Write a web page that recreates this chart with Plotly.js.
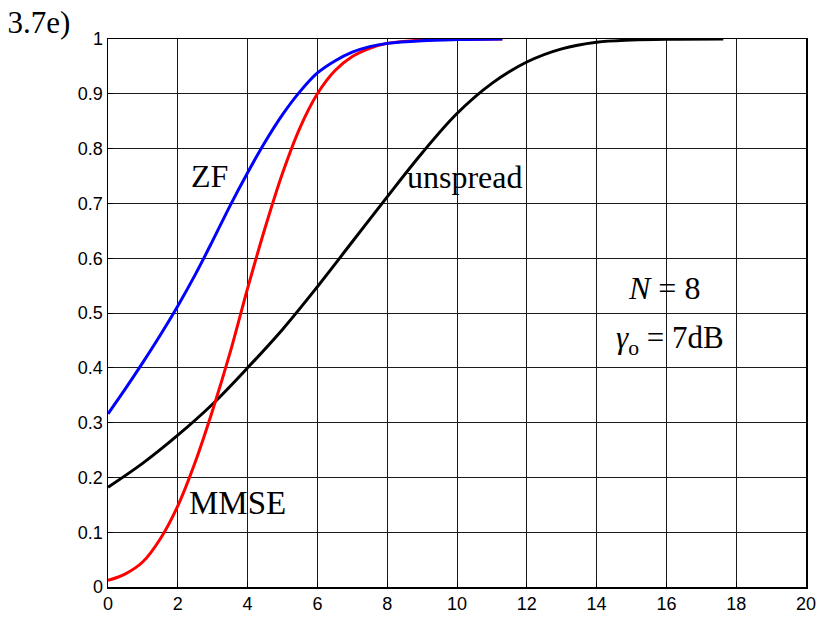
<!DOCTYPE html>
<html>
<head>
<meta charset="utf-8">
<script src="https://cdn.plot.ly/plotly-3.0.1.min.js"></script>
<style>html,body{margin:0;padding:0;background:#fff;}#chart{width:822px;height:621px;}</style>
</head>
<body>
<div id="chart"></div>
<script>
// ZF
const zfX = [0, 0.5, 1, 1.5, 2, 2.5, 3, 3.5, 4, 4.5, 5, 5.5, 6, 6.5, 7, 7.5, 8, 9, 10, 11.3];
const zfY = [0.316, 0.362, 0.410, 0.460, 0.513, 0.570, 0.632, 0.696, 0.756, 0.812, 0.862, 0.904, 0.938, 0.960, 0.976, 0.986, 0.992, 0.997, 0.999, 1.0];
// MMSE
const mmseX = [0, 0.5, 1, 1.5, 2, 2.5, 3, 3.5, 4, 4.5, 5, 5.5, 6, 6.5, 7, 7.5, 8, 9, 10, 11.3];
const mmseY = [0.012, 0.024, 0.046, 0.088, 0.148, 0.228, 0.323, 0.428, 0.545, 0.655, 0.755, 0.838, 0.900, 0.942, 0.968, 0.983, 0.992, 0.998, 0.9995, 1.0];
// unspread
const unX = [0, 1, 2, 3, 4, 5, 6, 7, 8, 9, 10, 11, 12, 13, 14, 15, 16, 17.63];
const unY = [0.182, 0.226, 0.277, 0.334, 0.400, 0.470, 0.548, 0.630, 0.712, 0.792, 0.864, 0.919, 0.958, 0.982, 0.994, 0.998, 0.9995, 1.0];

const xTicks = [0, 2, 4, 6, 8, 10, 12, 14, 16, 18, 20];
const yTicks = [0, 0.1, 0.2, 0.3, 0.4, 0.5, 0.6, 0.7, 0.8, 0.9, 1];
const yTickText = ['0', '0.1', '0.2', '0.3', '0.4', '0.5', '0.6', '0.7', '0.8', '0.9', '1'];

const serif = 'Liberation Serif, DejaVu Serif, serif';
const sans = 'Liberation Sans, Arial, sans-serif';

const traces = [
  {x: unX, y: unY, mode: 'lines', line: {color: '#000000', width: 3, shape: 'spline', smoothing: 1}, name: 'unspread'},
  {x: mmseX, y: mmseY, mode: 'lines', line: {color: '#ff0000', width: 3, shape: 'spline', smoothing: 1}, name: 'MMSE'},
  {x: zfX, y: zfY, mode: 'lines', line: {color: '#0000ff', width: 3, shape: 'spline', smoothing: 1}, name: 'ZF'}
];

const layout = {
  width: 822, height: 621,
  margin: {l: 108, r: 16, t: 39, b: 34},
  paper_bgcolor: '#ffffff', plot_bgcolor: '#ffffff',
  showlegend: false,
  title: {text: '3.7e)', font: {family: serif, size: 31, color: '#000'}, x: 0.009, xanchor: 'left', xref: 'container', y: 0.965, yanchor: 'middle', yref: 'container'},
  xaxis: {
    range: [0, 20], tickvals: xTicks, ticktext: xTicks.map(String),
    showgrid: true, gridcolor: '#1a1a1a', gridwidth: 1,
    showline: true, linecolor: '#000', linewidth: 1.5, mirror: true,
    ticks: 'inside', ticklen: 5, tickcolor: '#000',
    zeroline: false,
    tickfont: {family: sans, size: 18, color: '#000'}
  },
  yaxis: {
    range: [0, 1], tickvals: yTicks, ticktext: yTickText,
    showgrid: true, gridcolor: '#1a1a1a', gridwidth: 1,
    showline: true, linecolor: '#000', linewidth: 1.5, mirror: true,
    ticks: 'inside', ticklen: 5, tickcolor: '#000',
    zeroline: false,
    tickfont: {family: sans, size: 18, color: '#000'}
  },
  annotations: [
    {x: 2.92, y: 0.75, text: 'ZF', showarrow: false, xanchor: 'center', yanchor: 'middle', font: {family: serif, size: 32, color: '#000'}},
    {x: 10.23, y: 0.748, text: 'unspread', showarrow: false, xanchor: 'center', yanchor: 'middle', font: {family: serif, size: 32, color: '#000'}},
    {x: 3.72, y: 0.153, text: 'MMSE', showarrow: false, xanchor: 'center', yanchor: 'middle', font: {family: serif, size: 33, color: '#000'}},
    {x: 15.93, y: 0.545, text: '<i>N</i>\u00a0=\u00a08', showarrow: false, xanchor: 'center', yanchor: 'middle', font: {family: serif, size: 32, color: '#000'}},
    {x: 16.1, y: 0.45, text: '<i>γ</i><sub>o</sub>\u00a0=\u00a07dB', showarrow: false, xanchor: 'center', yanchor: 'middle', font: {family: serif, size: 31, color: '#000'}}
  ]
};

Plotly.newPlot('chart', traces, layout, {displayModeBar: false, staticPlot: true});
</script>
</body>
</html>
